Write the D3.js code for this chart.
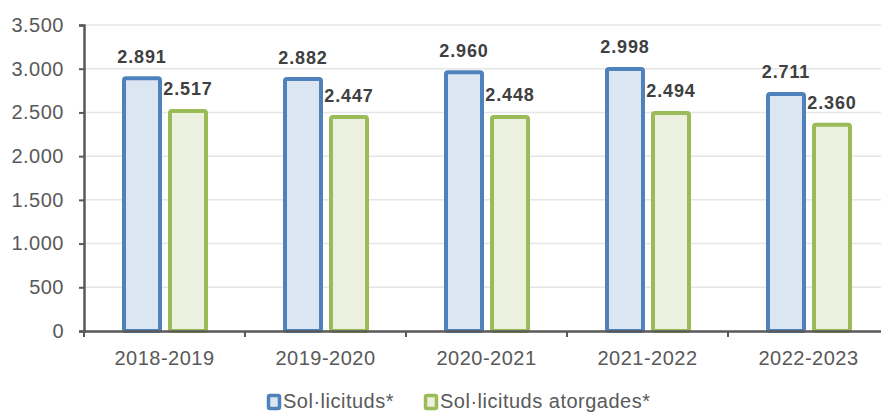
<!DOCTYPE html>
<html lang="ca">
<head>
<meta charset="UTF-8">
<title>Sol·licituds</title>
<script src="https://unpkg.com/d3@7/dist/d3.min.js"></script>
<style>
  body { margin: 0; background: #fff; overflow: hidden; }
  text { font-family: "Liberation Sans", Arial, sans-serif; }
</style>
</head>
<body>
<script>
  // chart data
  var years = ["2018-2019", "2019-2020", "2020-2021", "2021-2022", "2022-2023"];
  var solicituds = [2891, 2882, 2960, 2998, 2711];
  var atorgades = [2517, 2447, 2448, 2494, 2360];
  var seriesNames = ["Sol·licituds*", "Sol·licituds atorgades*"];
  var yTicks = [0, 500, 1000, 1500, 2000, 2500, 3000, 3500];

  var width = 881, height = 413;
  var margin = { left: 84, right: -8, top: 25, bottom: 82 };

  var svg = d3.select("body").append("svg")
              .attr("width", width)
              .attr("height", height);

  var x = d3.scaleBand()
            .domain(years)
            .range([margin.left, width - margin.right]);

  var y = d3.scaleLinear()
            .domain([0, 3500])
            .range([height - margin.bottom, margin.top]);

  var fmt = function (v) { return d3.format(",")(v).replace(/,/g, "."); };

  // gridlines
  svg.append("g")
     .selectAll("line")
     .data(yTicks.slice(1))
     .enter().append("line")
     .attr("x1", margin.left).attr("x2", width)
     .attr("y1", function (d) { return y(d); })
     .attr("y2", function (d) { return y(d); })
     .style("stroke", "#e6e6e6")
     .style("stroke-width", 1.5);

  var series = [
    { name: seriesNames[0], values: solicituds, stroke: "#4F81BD", fill: "#DCE6F2", off: 38 },
    { name: seriesNames[1], values: atorgades, stroke: "#9BBB59", fill: "#EBF1DE", off: 84 }
  ];
  var barW = 40, sw = 4;

  series.forEach(function (s) {
    var g = svg.append("g");
    g.selectAll("rect")
     .data(s.values)
     .enter().append("rect")
     .attr("x", function (d, i) { return x(years[i]) + s.off + sw / 2; })
     .attr("y", function (d) { return y(d); })
     .attr("width", barW - sw)
     .attr("height", function (d) { return y(0) - y(d); })
     .attr("rx", 2)
     .style("fill", s.fill)
     .style("stroke", s.stroke)
     .style("stroke-width", sw);

    g.selectAll("text")
     .data(s.values)
     .enter().append("text")
     .attr("x", function (d, i) { return x(years[i]) + s.off + barW / 2; })
     .attr("y", function (d) { return y(d) - 15.5; })
     .attr("text-anchor", "middle")
     .style("font-size", "18px")
     .style("font-weight", "bold")
     .style("letter-spacing", "0.9px")
     .style("fill", "#404040")
     .text(function (d) { return fmt(d); });
  });

  var axisFont = function (sel) {
    sel.style("font-size", "20px").style("fill", "#595959")
       .style("letter-spacing", "0.5px")
       .style("font-family", "'Liberation Sans', Arial, sans-serif");
  };

  // y axis
  var yAxis = svg.append("g")
     .attr("transform", "translate(" + margin.left + ",0)")
     .call(d3.axisLeft(y).tickValues(yTicks).tickSize(5).tickPadding(15).tickFormat(fmt));
  yAxis.select(".domain").style("stroke", "#595959").style("stroke-width", 2.5);
  yAxis.selectAll(".tick line").style("stroke", "#595959").style("stroke-width", 2);
  yAxis.selectAll(".tick text").call(axisFont);

  // x axis
  var xAxis = svg.append("g")
     .attr("transform", "translate(0," + y(0) + ")")
     .call(d3.axisBottom(x).tickSize(0).tickPadding(20));
  xAxis.select(".domain").style("stroke", "#595959").style("stroke-width", 2.5);
  xAxis.selectAll(".tick text").call(axisFont);
  xAxis.append("g")
       .selectAll("line")
       .data(years)
       .enter().append("line")
       .attr("x1", function (d) { return x(d); })
       .attr("x2", function (d) { return x(d); })
       .attr("y1", 0).attr("y2", 6)
       .style("stroke", "#595959").style("stroke-width", 2);

  // legend
  var legend = svg.append("g");
  var legX = [267, 424];
  series.forEach(function (s, i) {
    legend.append("rect")
          .attr("x", legX[i] + 1.5).attr("y", 395.5)
          .attr("width", 11).attr("height", 13)
          .attr("rx", 1.5)
          .style("fill", s.fill).style("stroke", s.stroke).style("stroke-width", 3.5);
    legend.append("text")
          .attr("x", legX[i] + 16).attr("y", 408)
          .call(axisFont)
          .text(s.name);
  });
</script>
</body>
</html>
